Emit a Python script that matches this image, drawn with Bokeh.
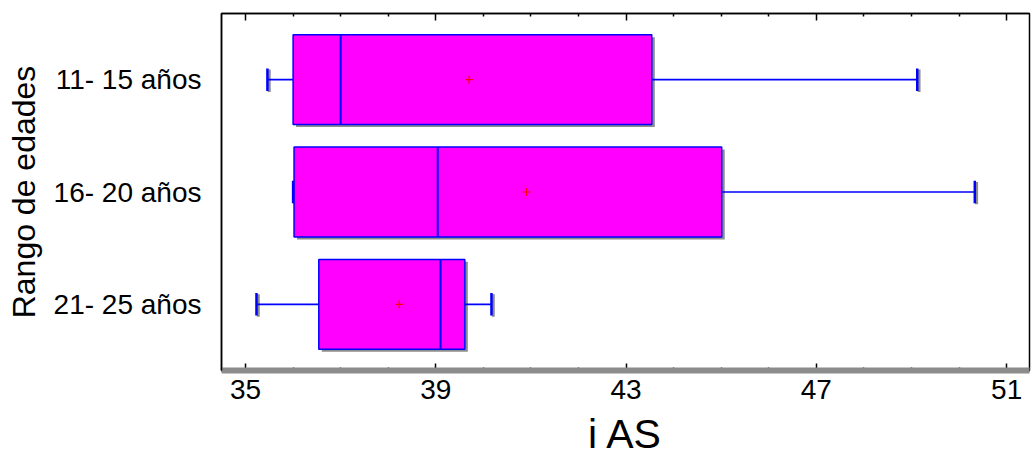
from bokeh.plotting import figure
from bokeh.models import FactorRange, Range1d, FixedTicker, LinearAxis, ColumnDataSource
from bokeh.transform import dodge
from bokeh.embed import file_html
from bokeh.resources import INLINE

# ---- data ----
categories = ["11- 15 años", "16- 20 años", "21- 25 años"]
whisker_low = [35.46, 36.0, 35.23]
q1 = [36.0, 36.02, 36.54]
median = [37.0, 39.04, 39.10]
q3 = [43.54, 45.01, 39.61]
whisker_high = [49.12, 50.33, 40.17]
mean = [39.70, 40.91, 38.23]
x_major_ticks = [35, 39, 43, 47, 51]
x_minor_ticks = [36, 37, 38, 40, 41, 42, 44, 45, 46, 48, 49, 50]
x_title = "i AS"
y_title = "Rango de edades"

FONT = "Liberation Sans"
W, H = 1031, 459
FL, FR, FT = 221, 2, 13
X0, X1 = 34.495, 51.48
px_x = (W - FL - FR) / (X1 - X0)  # pixels per data unit (approx.)
sdx = 3.0 / px_x                  # shadow offset

src = ColumnDataSource(dict(
    cat=categories, lo=whisker_low, q1=q1, med=median, q3=q3, hi=whisker_high, mean=mean,
    q1s=[v + sdx for v in q1], q3s=[v + sdx for v in q3],
    los=[v + 0.6 * sdx for v in whisker_low], his=[v + 0.6 * sdx for v in whisker_high],
))

p = figure(width=W, height=H,
           y_range=FactorRange(factors=categories[::-1], range_padding=0.0593),
           x_range=Range1d(X0, X1),
           output_backend="svg", toolbar_location=None,
           min_border_left=FL, min_border_right=FR, min_border_top=FT, min_border_bottom=0)

p.grid.visible = False
p.outline_line_color = "black"
p.outline_line_width = 1.5
p.background_fill_color = "white"
p.border_fill_color = "white"

BOX_H = 0.8
# shadows
p.hbar(y=dodge("cat", -0.022, range=p.y_range), left="q1s", right="q3s", height=BOX_H,
       source=src, fill_color="#8c8c8c", line_color=None)
p.rect(x="los", y=dodge("cat", -0.01, range=p.y_range), width=3, width_units="screen", height=0.2,
       source=src, fill_color="#8c8c8c", line_color=None)
p.rect(x="his", y=dodge("cat", -0.01, range=p.y_range), width=3, width_units="screen", height=0.2,
       source=src, fill_color="#8c8c8c", line_color=None)

# whiskers
p.segment(x0="lo", x1="q1", y0="cat", y1="cat", source=src, line_color="#0000ff", line_width=1.6)
p.segment(x0="q3", x1="hi", y0="cat", y1="cat", source=src, line_color="#0000ff", line_width=1.6)
p.rect(x="lo", y="cat", width=2.5, width_units="screen", height=0.2, source=src,
       fill_color="#0000ff", line_color=None)
p.rect(x="hi", y="cat", width=2.5, width_units="screen", height=0.2, source=src,
       fill_color="#0000ff", line_color=None)

# boxes
p.hbar(y="cat", left="q1", right="q3", height=BOX_H, source=src,
       fill_color="#ff00ff", line_color="#0000ff", line_width=1.5)
p.rect(x="med", y="cat", width=2, width_units="screen", height=BOX_H, source=src,
       fill_color="#0000ff", line_color=None)

# means
p.scatter(x="mean", y="cat", marker="cross", size=8, line_color="#ff0000", line_width=1.2, source=src)

ticker = FixedTicker(ticks=x_major_ticks, minor_ticks=x_minor_ticks)

# bottom axis (inner): black line with inward ticks, no labels
xa = p.xaxis[0]
xa.ticker = ticker
xa.major_label_overrides = {t: "" for t in x_major_ticks}
xa.major_label_text_font_size = "1px"
xa.major_label_standoff = 4
xa.major_tick_in = 7
xa.major_tick_out = 0
xa.minor_tick_in = 3
xa.minor_tick_out = 0
xa.major_tick_line_color = "black"
xa.minor_tick_line_color = "black"
xa.major_tick_line_width = 1.5
xa.minor_tick_line_width = 1.5
xa.axis_line_color = "black"
xa.axis_line_width = 2

# bottom axis (outer): grey "floor" band, tick labels and title
xb = LinearAxis(ticker=ticker,
                axis_label=x_title,
                axis_label_text_font=FONT, axis_label_text_font_size="41px",
                axis_label_text_font_style="normal", axis_label_text_color="black",
                axis_label_standoff=9,
                major_label_text_font=FONT, major_label_text_font_size="28px",
                major_label_text_color="black", major_label_standoff=9,
                major_tick_in=0, major_tick_out=0, minor_tick_in=0, minor_tick_out=0,
                major_tick_line_color=None, minor_tick_line_color=None,
                axis_line_color="#8c8c8c", axis_line_width=6)
p.add_layout(xb, "below")

# top axis: ticks only
ta = LinearAxis(ticker=ticker,
                major_label_overrides={t: "" for t in x_major_ticks},
                major_label_text_font_size="1px", major_label_standoff=0,
                major_tick_in=7, major_tick_out=0, minor_tick_in=3, minor_tick_out=0,
                major_tick_line_width=1.5, minor_tick_line_width=1.5,
                axis_line_color="black", axis_line_width=1.5)
p.add_layout(ta, "above")

# left axis
ya = p.yaxis[0]
ya.axis_label = y_title
ya.axis_label_text_font = FONT
ya.axis_label_text_font_size = "32px"
ya.axis_label_text_font_style = "normal"
ya.axis_label_text_color = "black"
ya.axis_label_standoff = 9
ya.major_label_text_font = FONT
ya.major_label_text_font_size = "28px"
ya.major_label_text_color = "black"
ya.major_label_standoff = 14
ya.major_tick_line_color = None
ya.minor_tick_line_color = None
ya.axis_line_color = "black"
ya.axis_line_width = 1.5

open("out.html", "w").write(file_html(p, INLINE))
